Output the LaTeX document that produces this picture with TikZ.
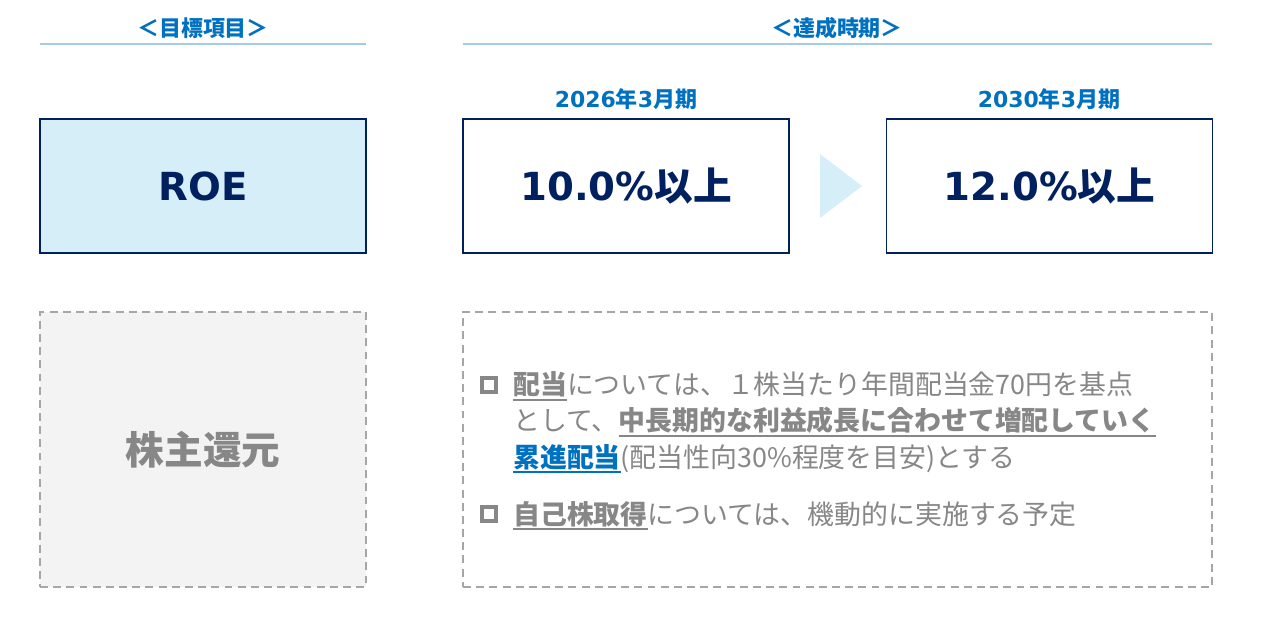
\documentclass[tikz,border=0pt]{standalone}
\usepackage{fontspec}
\setmainfont{DejaVu Sans}
\newfontfamily\jp{Noto Sans CJK JP}
\usetikzlibrary{positioning}

\definecolor{navy}{HTML}{002060}
\definecolor{hdblue}{HTML}{0070C0}
\definecolor{roefill}{HTML}{D5EEF8}
\definecolor{txgray}{HTML}{878787}
\definecolor{dashgray}{HTML}{A6A6A6}
\definecolor{boxgray}{HTML}{F3F3F3}
\definecolor{rulebl}{HTML}{A4CBEA}

% underline with a thicker rule in the current colour
\newcommand\ulbar[1]{\setbox0\hbox{#1}\rlap{\rule[-3.6pt]{\wd0}{1.1pt}}\box0}

\tikzset{
  headlbl/.style={font=\jp\bfseries\fontsize{12.5}{14}\selectfont, text=hdblue, inner sep=0pt},
  datelbl/.style={font=\bfseries\fontsize{12.5}{14}\selectfont, text=hdblue, inner sep=0pt},
  headrule/.style={draw=rulebl, line width=0.9pt},
  goalbox/.style={draw=navy, line width=0.9pt, minimum width=6.52cm, minimum height=2.68cm,
    inner sep=0pt, text=navy, font=\bfseries\fontsize{22}{24}\selectfont},
  dashbox/.style={draw=dashgray, dash pattern=on 4.5pt off 3pt, line width=0.9pt,
    minimum height=5.5cm, inner sep=0pt},
  bodytext/.style={font=\jp\fontsize{15.3}{20.5}\selectfont, text=txgray, align=left, inner sep=0pt},
  bulletsq/.style={draw=txgray, line width=2.3pt, minimum size=0.27cm, inner sep=0pt}
}

\begin{document}
\begin{tikzpicture}[x=0.02cm, y=-0.02cm]
        \useasboundingbox (0,0) rectangle (1262,627);

        % headings
        \node[headlbl] (goalhd) at (203,28) {＜目標項目＞};
        \node[headlbl] (timehd) at (837,28) {＜達成時期＞};
        \draw[headrule] (40,44) -- (366,44);
        \draw[headrule] (463,44) -- (1212,44);

        \node[datelbl] (fy26) at (626,99) {2026{\jp 年}3{\jp 月期}};
        \node[datelbl] (fy30) at (1049,99) {2030{\jp 年}3{\jp 月期}};

        % ROE row
        \node[goalbox, fill=roefill] (roe) at (203,186) {ROE};
        \node[goalbox, fill=white] (t26) at (626,186) {10.0\%{\jp 以上}};
        \node[goalbox, fill=white] (t30) at (1049.5,186) {12.0\%{\jp 以上}};
        \fill[roefill] (820,154) -- (862,186) -- (820,218) -- cycle;

        % shareholder return row
        \node[dashbox, fill=boxgray, minimum width=6.52cm, text=txgray,
              font=\jp\bfseries\fontsize{22}{24}\selectfont] (ret) at (203,449.5) {株主還元};
        \node[dashbox, fill=white, minimum width=14.98cm] (policy) at (837.5,449.5) {};

        \node[bulletsq] (b1) at (489,385) {};
        \node[bodytext, anchor=base west] (divtxt) at (513,467)
          {\ulbar{\bfseries 配当}については、１株当たり年間配当金70円を基点\\
           として、\ulbar{\bfseries 中長期的な利益成長に合わせて増配していく}\\
           {\color{hdblue}\ulbar{\bfseries 累進配当}}(配当性向30\%程度を目安)とする};

        \node[bulletsq] (b2) at (489,514) {};
        \node[bodytext, anchor=base west] (buytxt) at (513,524)
          {\ulbar{\bfseries 自己株取得}については、機動的に実施する予定};
\end{tikzpicture}
\end{document}
